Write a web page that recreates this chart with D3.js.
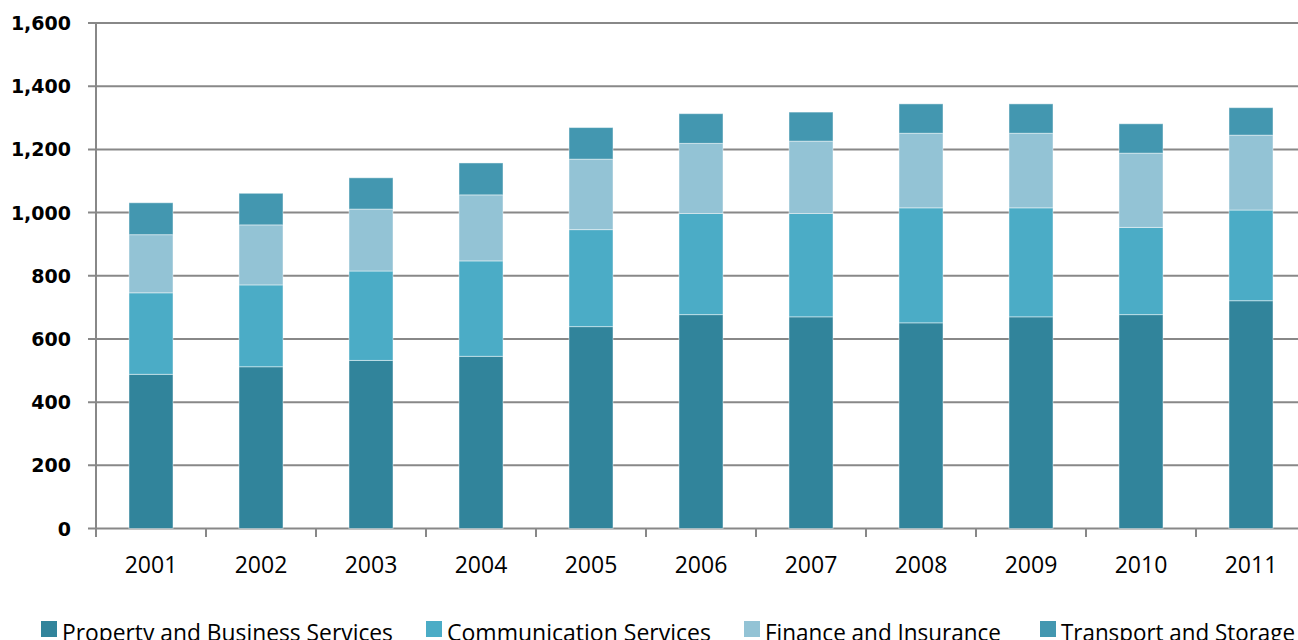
<!doctype html>
<html>
<head>
<meta charset="utf-8">
<title>Stacked bars 2001-2011</title>
<script src="https://d3js.org/d3.v7.min.js"></script>
<style>
  html, body { margin: 0; padding: 0; background: #fff; overflow: hidden; }
  svg { display: block; }
  .ylab { font: bold 19px "DejaVu Sans", sans-serif; fill: #000; }
  .xlab { font: 23px "Open Sans", sans-serif; fill: #000; }
  .leg  { font: 23px "Open Sans", sans-serif; fill: #000; }
</style>
</head>
<body>
<script>
// data
var years = ["2001","2002","2003","2004","2005","2006","2007","2008","2009","2010","2011"];
var seriesNames = ["Property and Business Services", "Communication Services", "Finance and Insurance", "Transport and Storage"];
var property      = [488, 512, 532, 545, 639, 677, 670, 651, 670, 677, 721];
var communication = [258, 259, 283, 302, 307, 320, 327, 364, 345, 276, 287];
var finance       = [184, 190, 196, 209, 223, 222, 229, 236, 236, 235, 237];
var transport     = [101, 100, 99, 101, 100, 94, 92, 93, 93, 93, 87];
var yTicks = [0, 200, 400, 600, 800, 1000, 1200, 1400, 1600];

var colors = ["#31849b", "#4bacc6", "#93c3d5", "#4397b0"];
var keys = ["property", "communication", "finance", "transport"];

var rows = years.map(function(y, i) {
  return { year: y, property: property[i], communication: communication[i], finance: finance[i], transport: transport[i] };
});

var width = 1298, height = 640;
var svg = d3.select("body").append("svg").attr("width", width).attr("height", height);

var x = d3.scaleBand().domain(years).range([96, 1306]).paddingInner(0.6).paddingOuter(0.3);
var y = d3.scaleLinear().domain([0, 1600]).range([528.5, 23]);

// gridlines + y ticks
svg.append("g").selectAll("line").data(yTicks).enter().append("line")
  .attr("x1", 88).attr("x2", width)
  .attr("y1", function(d){ return y(d); }).attr("y2", function(d){ return y(d); })
  .attr("stroke", "#888").attr("stroke-width", 2);

svg.append("g").selectAll("text").data(yTicks).enter().append("text")
  .attr("class", "ylab")
  .attr("x", 71).attr("y", function(d){ return y(d) + 7; })
  .attr("text-anchor", "end")
  .text(function(d){ return d3.format(",")(d); });

// y axis line
svg.append("line").attr("x1", 96).attr("x2", 96).attr("y1", y(1600)).attr("y2", 537)
  .attr("stroke", "#888").attr("stroke-width", 2);

// x tick marks at category boundaries
var step = x.step();
var bounds = years.map(function(d, i){ return 96 + step * (i + 1); });
svg.append("g").selectAll("line").data(bounds).enter().append("line")
  .attr("x1", function(d){ return d; }).attr("x2", function(d){ return d; })
  .attr("y1", y(0)).attr("y2", 537)
  .attr("stroke", "#888").attr("stroke-width", 2);

// stacked bars
var stack = d3.stack().keys(keys)(rows);
svg.append("g").selectAll("g").data(stack).enter().append("g")
  .attr("fill", function(d, i){ return colors[i]; })
  .selectAll("rect").data(function(d){ return d; }).enter().append("rect")
  .attr("x", function(d){ return x(d.data.year); })
  .attr("width", x.bandwidth())
  .attr("y", function(d){ return y(d[1]); })
  .attr("height", function(d){ return y(d[0]) - y(d[1]); })
  .attr("stroke", "rgba(255,255,255,0.45)").attr("stroke-width", 1);

// x labels
svg.append("g").selectAll("text").data(years).enter().append("text")
  .attr("class", "xlab")
  .attr("x", function(d){ return x(d) + x.bandwidth() / 2; })
  .attr("y", 573)
  .attr("text-anchor", "middle")
  .text(function(d){ return d; });

// legend
var legX = [41, 426, 744, 1040];
var legW = [331, 264, 236, 234];
var leg = svg.append("g").selectAll("g").data(seriesNames).enter().append("g");
leg.append("rect")
  .attr("x", function(d, i){ return legX[i]; }).attr("y", 621)
  .attr("width", 16).attr("height", 16)
  .attr("fill", function(d, i){ return colors[i]; });
leg.append("text")
  .attr("class", "leg")
  .attr("x", function(d, i){ return legX[i] + 21; }).attr("y", 641)
  .attr("textLength", function(d, i){ return legW[i]; })
  .attr("lengthAdjust", "spacingAndGlyphs")
  .text(function(d){ return d; });
</script>
</body>
</html>
